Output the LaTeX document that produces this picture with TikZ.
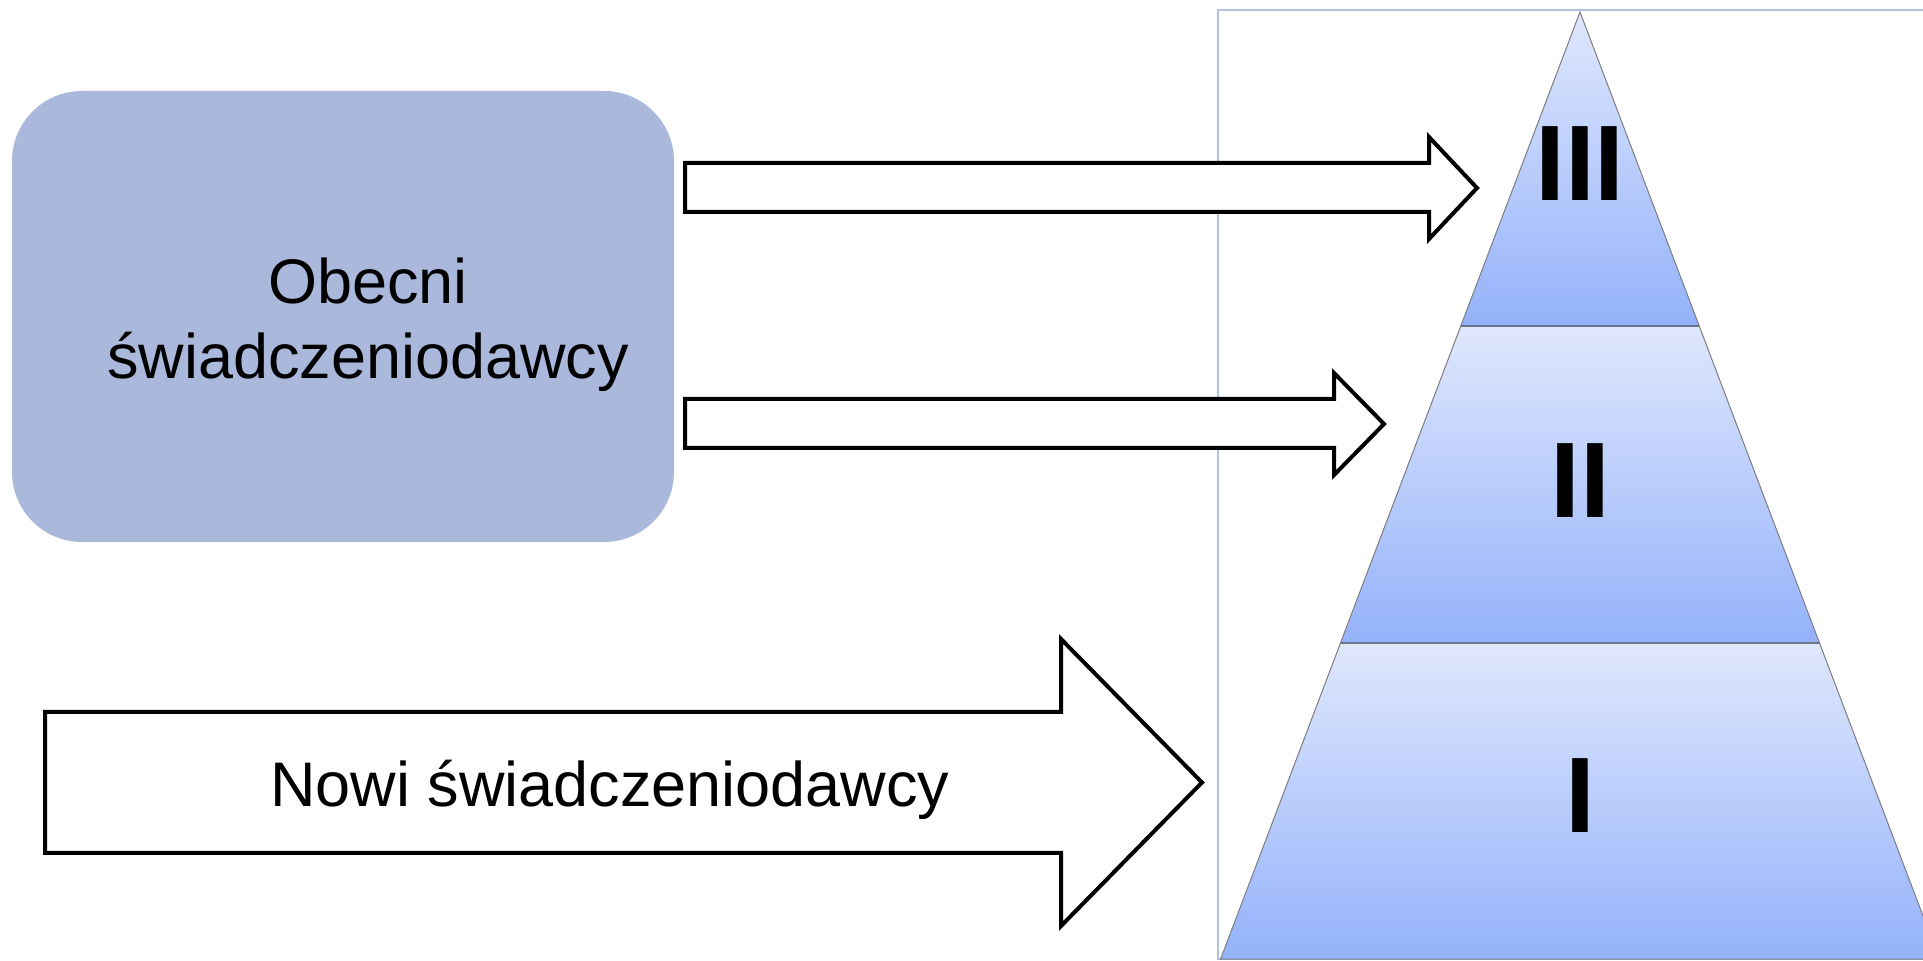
\documentclass[tikz,border=0pt]{standalone}
\usepackage{fontspec}
\setmainfont{Liberation Sans}
\begin{document}
\begin{tikzpicture}[x=0.5pt,y=-0.5pt]
\definecolor{boxfill}{RGB}{170,184,220}
\definecolor{tiertop}{RGB}{223,231,252}
\definecolor{tierbot}{RGB}{148,178,251}
\definecolor{framec}{RGB}{180,193,222}
\definecolor{tieredge}{RGB}{125,125,130}
\definecolor{divider}{RGB}{110,118,140}
\tikzset{
  tier/.style={top color=tiertop,bottom color=tierbot,draw=tieredge,line width=0.5pt},
  fatarrow/.style={draw=black,fill=white,line width=2pt,line join=miter,miter limit=10},
  label/.style={inner sep=0pt,font=\fontsize{31.5}{37.5}\selectfont},
  roman/.style={inner sep=0pt,font=\fontsize{53.7}{60}\selectfont\bfseries},
  dividerline/.style={draw=divider,line width=1pt}
}
\useasboundingbox (0,0) rectangle (1923,961);
% frame
\draw[framec,line width=0.75pt] (1218,10) rectangle (1940,959);
% pyramid tiers
\path[tier] (1580,12) -- (1699.2,326) -- (1460.8,326) -- cycle;
\path[tier] (1460.8,326) -- (1699.2,326) -- (1819.5,643) -- (1340.5,643) -- cycle;
\path[tier] (1340.5,643) -- (1819.5,643) -- (1939.4,959) -- (1220.6,959) -- cycle;
\draw[dividerline] (1460.8,326) -- (1699.2,326);
\draw[dividerline] (1340.5,643) -- (1819.5,643);
\node[roman,anchor=base] (t3) at (1580,201) {III};
\node[roman,anchor=base] (t2) at (1580,518) {II};
\node[roman,anchor=base] (t1) at (1580,833) {I};
% box
\node[fill=boxfill,rounded corners=35pt,minimum width=331pt,minimum height=225.5pt,inner sep=0pt] (obecnibox) at (343,316.5) {};
\node[label,align=center] (obecni) at (368,325) {Obecni\\świadczeniodawcy};
% arrows
\draw[fatarrow] (685,163) -- (1429,163) -- (1429,137) -- (1477,188) -- (1429,239) -- (1429,212) -- (685,212) -- cycle;
\draw[fatarrow] (685,399) -- (1334,399) -- (1334,373) -- (1384,424) -- (1334,475) -- (1334,448) -- (685,448) -- cycle;
\draw[fatarrow] (45,712) -- (1061,712) -- (1061,639) -- (1202,782.5) -- (1061,926) -- (1061,853) -- (45,853) -- cycle;
\node[label,anchor=base] (nowi) at (610,807) {Nowi świadczeniodawcy};
\end{tikzpicture}
\end{document}
